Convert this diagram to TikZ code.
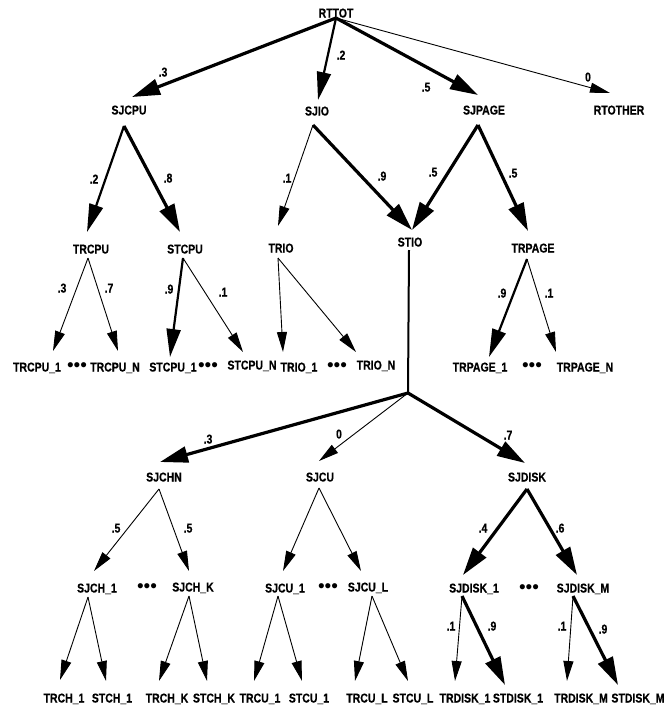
\documentclass[tikz,border=0pt]{standalone}
\usepackage{fontspec}
\newfontfamily\narrowsf{Liberation Sans}[FakeStretch=0.82,FakeBold=0.5]
\newfontfamily\dotsf{Liberation Sans}
\usetikzlibrary{arrows.meta,calc}

% one connector: parent, offset of its start, child, offset of its tip
\newcommand\treeedge[5][thinarc]{\draw[#1] ($(#2)+#3$) -- ($(#4)+#5$);}

\begin{document}
\begin{tikzpicture}[x=1pt,y=-1pt,
  lbl/.style={font=\narrowsf\bfseries\fontsize{12.8}{14}\selectfont,
    inner sep=0pt, text height=9pt, text depth=0pt, anchor=center},
  prob/.style={lbl},
  more/.style={font=\dotsf\fontsize{19}{20}\selectfont, inner sep=0pt, anchor=center},
  thinarc/.style={line width=0.9pt, -{Triangle[length=20pt,width=10pt]}},
  midarc/.style={line width=2.2pt, -{Triangle[length=28pt,width=14pt]}},
  thickarc/.style={line width=3.2pt, -{Triangle[length=28pt,width=16pt]}},
  trunk/.style={line width=2pt}]
\useasboundingbox (0,0) rectangle (666,707);

% ---- level 0 and 1
\node[lbl] (RTTOT)   at (336,13)  {RTTOT};
\node[lbl] (SJCPU)   at (129,110) {SJCPU};
\node[lbl] (SJIO)    at (317,111) {SJIO};
\node[lbl] (SJPAGE)  at (484,110) {SJPAGE};
\node[lbl] (RTOTHER) at (619,110) {RTOTHER};

% ---- level 2
\node[lbl] (TRCPU)  at (91,249)  {TRCPU};
\node[lbl] (STCPU)  at (185,249) {STCPU};
\node[lbl] (TRIO)   at (281,248) {TRIO};
\node[lbl] (STIO)   at (410,242) {STIO};
\node[lbl] (TRPAGE) at (533,248) {TRPAGE};

% ---- level 3 (upper leaves)
\node[lbl]  (TRCPU1)  at (37,367)  {TRCPU\_1};
\node[more] (dotsA)   at (77,367)  {•••};
\node[lbl]  (TRCPUN)  at (115,367) {TRCPU\_N};
\node[lbl]  (STCPU1)  at (173,367) {STCPU\_1};
\node[more] (dotsB)   at (208,367) {•••};
\node[lbl]  (STCPUN)  at (252,365) {STCPU\_N};
\node[lbl]  (TRIO1)   at (299,367) {TRIO\_1};
\node[more] (dotsC)   at (337,367) {•••};
\node[lbl]  (TRION)   at (376,365) {TRIO\_N};
\node[lbl]  (TRPAGE1) at (480,367) {TRPAGE\_1};
\node[more] (dotsD)   at (532,367) {•••};
\node[lbl]  (TRPAGEN) at (585,367) {TRPAGE\_N};

% ---- I/O subtree
\coordinate (fork) at (408,393);
\node[lbl] (SJCHN)  at (164,477) {SJCHN};
\node[lbl] (SJCU)   at (320,477) {SJCU};
\node[lbl] (SJDISK) at (527,477) {SJDISK};

\node[lbl]  (SJCH1)   at (97,588)  {SJCH\_1};
\node[more] (dotsE)   at (147,588) {•••};
\node[lbl]  (SJCHK)   at (193,587) {SJCH\_K};
\node[lbl]  (SJCU1)   at (285,588) {SJCU\_1};
\node[more] (dotsF)   at (328,588) {•••};
\node[lbl]  (SJCUL)   at (368,587) {SJCU\_L};
\node[lbl]  (SJDISK1) at (474,588) {SJDISK\_1};
\node[more] (dotsG)   at (529,589) {•••};
\node[lbl]  (SJDISKM) at (583,588) {SJDISK\_M};

\node[lbl] (TRCH1)   at (64,698)  {TRCH\_1};
\node[lbl] (STCH1)   at (112,698) {STCH\_1};
\node[lbl] (TRCHK)   at (167,698) {TRCH\_K};
\node[lbl] (STCHK)   at (214,698) {STCH\_K};
\node[lbl] (TRCU1)   at (260,698) {TRCU\_1};
\node[lbl] (STCU1)   at (309,698) {STCU\_1};
\node[lbl] (TRCUL)   at (367,698) {TRCU\_L};
\node[lbl] (STCUL)   at (413,698) {STCU\_L};
\node[lbl] (TRDISK1) at (465,698) {TRDISK\_1};
\node[lbl] (STDISK1) at (518,698) {STDISK\_1};
\node[lbl] (TRDISKM) at (581,698) {TRDISK\_M};
\node[lbl] (STDISKM) at (638,698) {STDISK\_M};

% ---- connectors, width by branch weight
\treeedge[thickarc]{RTTOT}{(0,5)}{SJCPU}{(3,-13)}
\treeedge[midarc]{RTTOT}{(0,5)}{SJIO}{(1,-11)}
\treeedge[thickarc]{RTTOT}{(0,5)}{SJPAGE}{(-6,-15)}
\treeedge[thinarc]{RTTOT}{(0,5)}{RTOTHER}{(-9,-17)}

\treeedge[midarc]{SJCPU}{(-5,16)}{TRCPU}{(-4,-17)}
\treeedge[thickarc]{SJCPU}{(-5,16)}{STCPU}{(-5,-17)}
\treeedge[thinarc]{SJIO}{(-4,14)}{TRIO}{(-3,-22)}
\treeedge[thickarc]{SJIO}{(-4,14)}{STIO}{(2,-12)}
\treeedge[thickarc]{SJPAGE}{(-6,15)}{STIO}{(2,-12)}
\treeedge[thickarc]{SJPAGE}{(-6,15)}{TRPAGE}{(-5,-17)}

\treeedge{TRCPU}{(-3,9)}{TRCPU1}{(16,-16)}
\treeedge{TRCPU}{(-3,9)}{TRCPUN}{(3,-16)}
\treeedge[midarc]{STCPU}{(-2,9)}{STCPU1}{(-3,-10)}
\treeedge{STCPU}{(-2,9)}{STCPUN}{(-9,-13)}
\treeedge{TRIO}{(-3,10)}{TRIO1}{(-16,-15)}
\treeedge{TRIO}{(-3,10)}{TRION}{(-20,-13)}
\treeedge[midarc]{TRPAGE}{(-6,11)}{TRPAGE1}{(9,-10)}
\treeedge{TRPAGE}{(-6,11)}{TRPAGEN}{(-29,-15)}

\draw[trunk] ($(STIO)+(-1,8)$) -- (fork);
\draw[thickarc] (fork) -- ($(SJCHN)+(-4,-15)$);
\draw[thinarc] (fork) -- ($(SJCU)+(-1,-16)$);
\draw[thickarc] (fork) -- ($(SJDISK)+(-2,-14)$);

\treeedge{SJCHN}{(-5,12)}{SJCH1}{(-3,-17)}
\treeedge{SJCHN}{(-5,12)}{SJCHK}{(-4,-16)}
\treeedge{SJCU}{(-1,11)}{SJCU1}{(-2,-17)}
\treeedge{SJCU}{(-1,11)}{SJCUL}{(-7,-16)}
\treeedge[thickarc]{SJDISK}{(0,12)}{SJDISK1}{(-11,-13)}
\treeedge[thickarc]{SJDISK}{(0,12)}{SJDISKM}{(-6,-13)}

\treeedge{SJCH1}{(-9,9)}{TRCH1}{(-4,-18)}
\treeedge{SJCH1}{(-9,9)}{STCH1}{(-6,-17)}
\treeedge{SJCHK}{(-4,9)}{TRCHK}{(-8,-17)}
\treeedge{SJCHK}{(-4,9)}{STCHK}{(-7,-17)}
\treeedge{SJCU1}{(-7,8)}{TRCU1}{(-6,-17)}
\treeedge{SJCU1}{(-7,8)}{STCU1}{(-7,-17)}
\treeedge{SJCUL}{(4,9)}{TRCUL}{(-12,-17)}
\treeedge{SJCUL}{(4,9)}{STCUL}{(-5,-17)}
\treeedge{SJDISK1}{(-12,8)}{TRDISK1}{(-10,-17)}
\treeedge[thickarc]{SJDISK1}{(-12,8)}{STDISK1}{(-13,-13)}
\treeedge{SJDISKM}{(-10,8)}{TRDISKM}{(-14,-17)}
\treeedge[thickarc]{SJDISKM}{(-10,8)}{STDISKM}{(-20,-13)}

% ---- branch probabilities
\node[prob] (p1)  at (163,72)  {.3};
\node[prob] (p2)  at (341,55)  {.2};
\node[prob] (p3)  at (426,87)  {.5};
\node[prob] (p4)  at (588,77)  {0};
\node[prob] (p5)  at (94,179)  {.2};
\node[prob] (p6)  at (168,178) {.8};
\node[prob] (p7)  at (287,178) {.1};
\node[prob] (p8)  at (382,176) {.9};
\node[prob] (p9)  at (433,172) {.5};
\node[prob] (p10) at (513,173) {.5};
\node[prob] (p11) at (62,288)  {.3};
\node[prob] (p12) at (109,288) {.7};
\node[prob] (p13) at (169,289) {.9};
\node[prob] (p14) at (223,292) {.1};
\node[prob] (p15) at (502,293) {.9};
\node[prob] (p16) at (549,293) {.1};
\node[prob] (p17) at (208,439) {.3};
\node[prob] (p18) at (339,434) {0};
\node[prob] (p19) at (508,435) {.7};
\node[prob] (p20) at (116,528) {.5};
\node[prob] (p21) at (188,528) {.5};
\node[prob] (p22) at (483,528) {.4};
\node[prob] (p23) at (560,528) {.6};
\node[prob] (p24) at (451,626) {.1};
\node[prob] (p25) at (492,626) {.9};
\node[prob] (p26) at (562,626) {.1};
\node[prob] (p27) at (603,629) {.9};
\end{tikzpicture}
\end{document}
